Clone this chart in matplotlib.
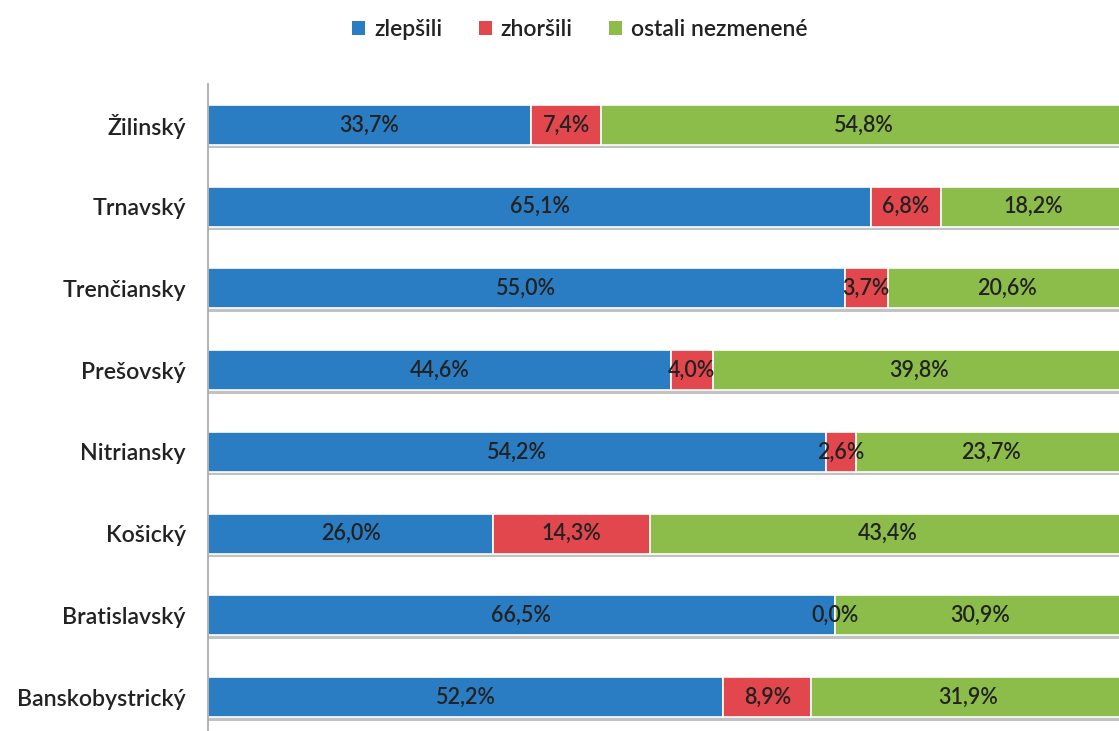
import matplotlib
matplotlib.use("Agg")
import matplotlib.pyplot as plt
import matplotlib.patheffects as pe
from matplotlib.patches import Patch
import numpy as np

plt.rcParams['font.family'] = ['Lato', 'DejaVu Sans']

regions = ["Žilinský", "Trnavský", "Trenčiansky", "Prešovský", "Nitriansky",
           "Košický", "Bratislavský", "Banskobystrický"]
zlepsili = [33.7, 65.1, 55.0, 44.6, 54.2, 26.0, 66.5, 52.2]
zhorsili = [7.4, 6.8, 3.7, 4.0, 2.6, 14.3, 0.0, 8.9]
nezmenene = [54.8, 18.2, 20.6, 39.8, 23.7, 43.4, 30.9, 31.9]
series_names = ["zlepšili", "zhoršili", "ostali nezmenené"]
colors = ["#2a7dc2", "#e2474d", "#8cbd4b"]

fig = plt.figure(figsize=(11.19, 7.31), dpi=100)
ax = fig.add_axes([208/1119, (731-738)/731, 918/1119, 654/731])

data = np.array([zlepsili, zhorsili, nezmenene])
totals = data.sum(axis=0)
shares = data / totals * 100
y = np.arange(len(regions))
left = np.zeros(len(regions))
shadow = [pe.SimplePatchShadow(offset=(0, -2.5), shadow_rgbFace="#9a9a9a", alpha=0.6), pe.Normal()]
for i, name in enumerate(series_names):
    bars = ax.barh(y, shares[i], left=left, height=0.49, color=colors[i],
                   edgecolor="white", linewidth=1.2)
    for b in bars:
        b.set_path_effects(shadow)
    for j in range(len(regions)):
        cx = left[j] + shares[i][j] / 2
        ax.text(cx, y[j], f"{data[i][j]:.1f}%".replace(".", ","),
                ha="center", va="center", fontsize=15.5, color="#222222",
                fontweight="semibold")
    left = left + shares[i]

ax.set_yticks(y)
ax.set_yticklabels(regions, fontsize=16.7, color="#222222", fontweight="semibold")
ax.set_ylim(len(regions) - 0.5, -0.5)
ax.set_xlim(0, 100)
ax.set_xticks([])
ax.tick_params(axis="y", length=0, pad=16)
for s in ["top", "right", "bottom"]:
    ax.spines[s].set_visible(False)
ax.spines["left"].set_color("#a6a6a6")
ax.spines["left"].set_linewidth(1.2)

handles = [Patch(facecolor=c, edgecolor="none") for c in colors]
leg = fig.legend(handles, series_names, loc="center",
                 bbox_to_anchor=(580/1119, 1 - 30/731), ncol=3, frameon=False,
                 fontsize=16.5, handlelength=0.55, handleheight=0.55, handletextpad=0.4,
                 columnspacing=1.6)
for t in leg.get_texts():
    t.set_fontweight("semibold")
    t.set_color("#222222")

fig.savefig("out.png", dpi=100)
